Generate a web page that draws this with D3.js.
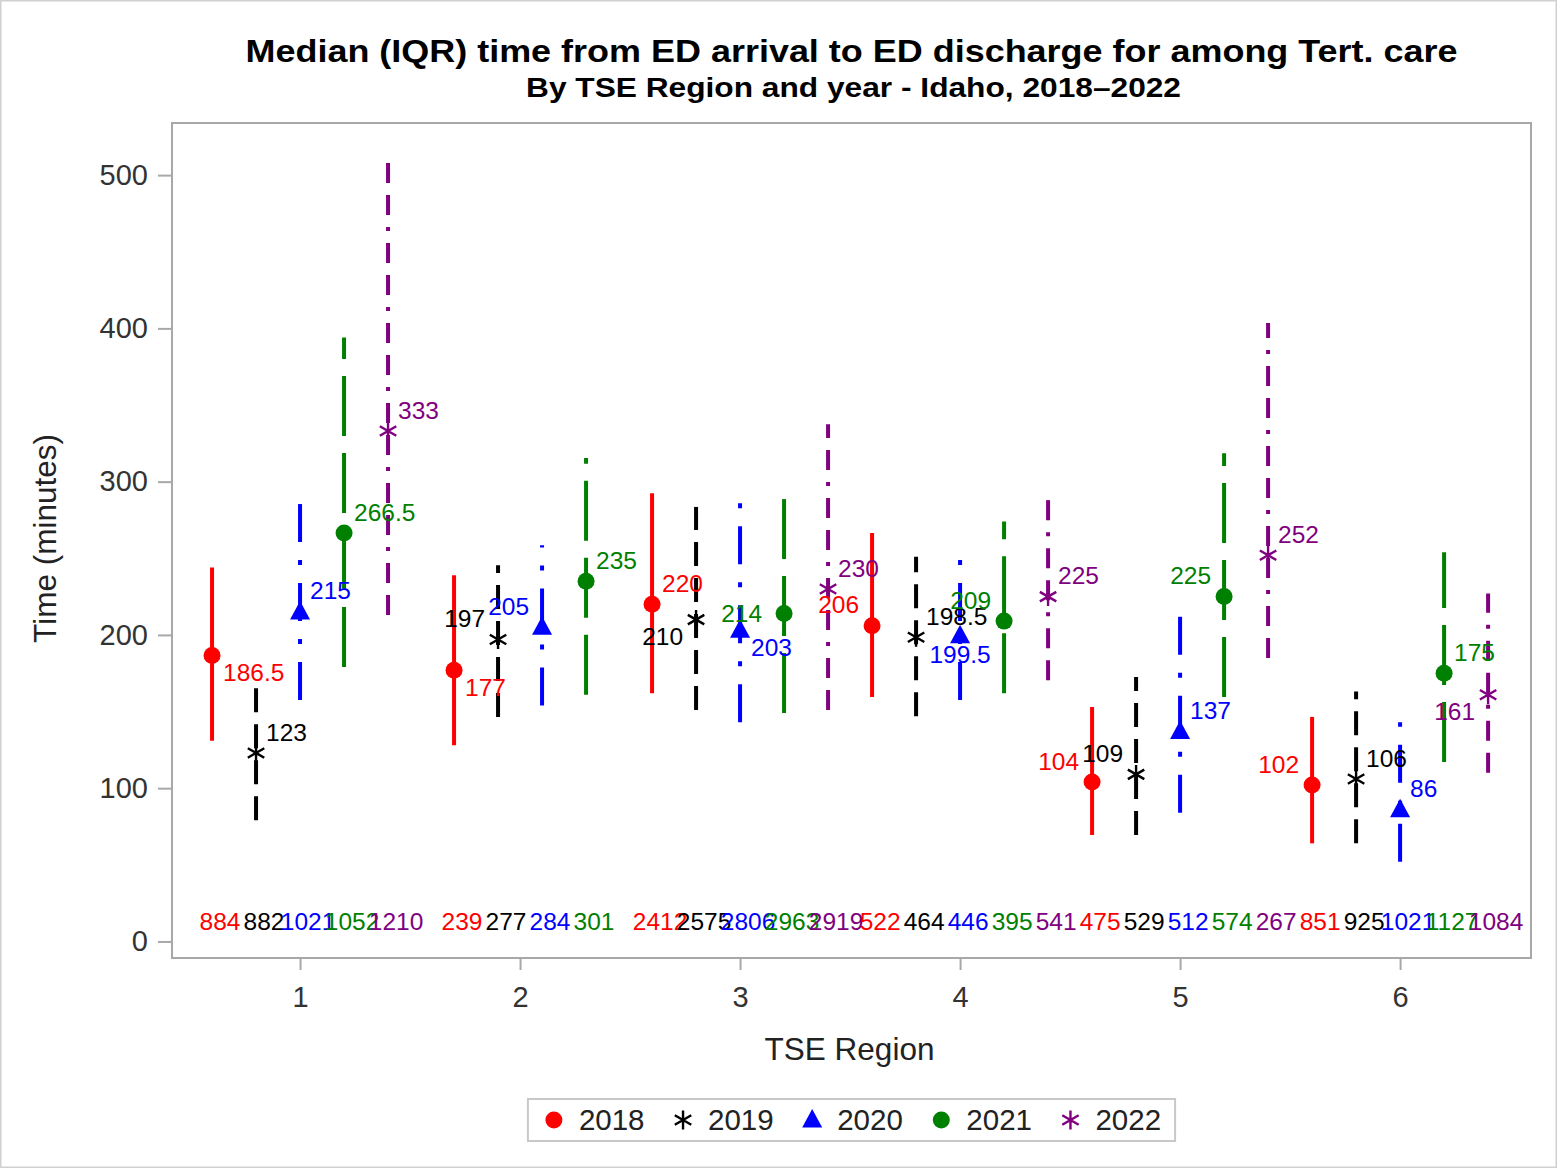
<!DOCTYPE html>
<html><head><meta charset="utf-8">
<script src="https://cdn.jsdelivr.net/npm/d3@7"></script>
<style>
body{margin:0;background:#fff}
svg{display:block}
text{font-family:"Liberation Sans",Arial,sans-serif}
</style>
</head><body>
<svg id="chart" width="1557" height="1168"></svg>
<script>
// ---------------- DATA ----------------
const regions = [1, 2, 3, 4, 5, 6];
const years = ["2018", "2019", "2020", "2021", "2022"];

const median2018 = [186.5, 177, 220, 206, 104, 102];
const median2019 = [123, 197, 210, 198.5, 109, 106];
const median2020 = [215, 205, 203, 199.5, 137, 86];
const median2021 = [266.5, 235, 214, 209, 225, 175];
const median2022 = [333, null, 230, 225, 252, 161];

const q1_2018 = [131, 128, 162, 159.5, 69.5, 64];
const q3_2018 = [244, 239, 292.5, 266.5, 153, 146.5];
const q1_2019 = [79, 146.5, 151, 147, 69.5, 64];
const q3_2019 = [172.5, 245.5, 283.5, 251, 172.5, 163];
const q1_2020 = [157.5, 154, 143, 157.5, 84, 52];
const q3_2020 = [290, 258.5, 290, 258.5, 217.5, 143];
const q1_2021 = [179, 161, 149, 162, 159.5, 117];
const q3_2021 = [394, 315.5, 296, 274, 318.5, 254];
const q1_2022 = [213, null, 151, 170.5, 185, 110];
const q3_2022 = [513, null, 337.5, 294, 403.5, 227];

const n2018 = [884, 239, 2412, 522, 475, 851];
const n2019 = [882, 277, 2575, 464, 529, 925];
const n2020 = [1021, 284, 2806, 446, 512, 1021];
const n2021 = [1052, 301, 2963, 395, 574, 1127];
const n2022 = [1210, null, 2919, 541, 267, 1084];

// label side relative to the median marker
const side2018 = ["se", "se", "ne", "nw", "nw", "nw"];
const side2019 = ["ne", "nw", "sw", "ne", "nw", "ne"];
const side2020 = ["ne", "nw", "se", "s", "ne", "ne"];
const side2021 = ["ne", "ne", "w", "nw", "nw", "ne"];
const side2022 = ["ne", null, "ne", "ne", "ne", "sw"];

const yTicks = [0, 100, 200, 300, 400, 500];

const titleText = "Median (IQR) time from ED arrival to ED discharge for among Tert. care";
const subtitleText = "By TSE Region and year - Idaho, 2018\u20132022";
const xLabel = "TSE Region";
const yLabel = "Time (minutes)";

// ---------------- STYLE ----------------
const seriesData = {
  "2018": {med: median2018, q1: q1_2018, q3: q3_2018, n: n2018, side: side2018},
  "2019": {med: median2019, q1: q1_2019, q3: q3_2019, n: n2019, side: side2019},
  "2020": {med: median2020, q1: q1_2020, q3: q3_2020, n: n2020, side: side2020},
  "2021": {med: median2021, q1: q1_2021, q3: q3_2021, n: n2021, side: side2021},
  "2022": {med: median2022, q1: q1_2022, q3: q3_2022, n: n2022, side: side2022}
};
const styles = {
  "2018": {color: "#ff0000", marker: "circle", dash: null},
  "2019": {color: "#000000", marker: "asterisk", dash: "24,12"},
  "2020": {color: "#0000ff", marker: "triangle", dash: "38,18,5,18"},
  "2021": {color: "#008000", marker: "circle", dash: "60,17"},
  "2022": {color: "#800080", marker: "asterisk", dash: "20,12,20,12,4,12"}
};
const place = {
  ne: {dx: 10, dy: -21, anchor: "start"},
  se: {dx: 11, dy: 17, anchor: "start"},
  nw: {dx: -13, dy: -21, anchor: "end"},
  sw: {dx: -13, dy: 17, anchor: "end"},
  s:  {dx: 0, dy: 19, anchor: "middle"},
  w:  {dx: -22, dy: 0, anchor: "end"}
};

const svg = d3.select("#chart");
const W = 1557, H = 1168;
const frame = {left: 172, right: 1531, top: 123, bottom: 958};

svg.append("rect").attr("x", 0.5).attr("y", 0.5).attr("width", W - 1).attr("height", H - 1)
  .attr("fill", "#fff").attr("stroke", "#d0d0d0").attr("stroke-width", 2);

const x = d3.scaleLinear().domain([0.418, 6.595]).range([frame.left, frame.right]);
const y = d3.scaleLinear().domain([-10.8, 534]).range([frame.bottom, frame.top]);
const clusterStep = 0.2;

// frame
svg.append("rect").attr("x", frame.left).attr("y", frame.top)
  .attr("width", frame.right - frame.left).attr("height", frame.bottom - frame.top)
  .attr("fill", "none").attr("stroke", "#a8a8a8").attr("stroke-width", 2);

// axes
const yAxis = d3.axisLeft(y).tickValues(yTicks).tickSize(14).tickPadding(10).tickFormat(d3.format("d"));
const gy = svg.append("g").attr("transform", `translate(${frame.left},0)`).call(yAxis);
const xAxis = d3.axisBottom(x).tickValues(regions).tickSize(12).tickPadding(16).tickFormat(d3.format("d"));
const gx = svg.append("g").attr("transform", `translate(0,${frame.bottom})`).call(xAxis);
[gx, gy].forEach(g => {
  g.select(".domain").remove();
  g.selectAll(".tick line").attr("stroke", "#a8a8a8").attr("stroke-width", 2);
  g.selectAll(".tick text").attr("fill", "#333").style("font-size", "29px")
    .style("font-family", '"Liberation Sans",Arial,sans-serif');
});

// titles
const cxTitle = (frame.left + frame.right) / 2;
svg.append("text").attr("x", cxTitle).attr("y", 62)
  .attr("text-anchor", "middle")
  .style("font-weight", "bold").style("font-size", "30.5px").attr("fill", "#000")
  .attr("textLength", 1212).attr("lengthAdjust", "spacingAndGlyphs")
  .text(titleText);
svg.append("text").attr("x", cxTitle + 2).attr("y", 97)
  .attr("text-anchor", "middle")
  .style("font-weight", "bold").style("font-size", "27px").attr("fill", "#000")
  .attr("textLength", 655).attr("lengthAdjust", "spacingAndGlyphs")
  .text(subtitleText);

svg.append("text").attr("x", cxTitle - 2).attr("y", 1060)
  .attr("text-anchor", "middle").style("font-size", "31.5px").attr("fill", "#222").text(xLabel);
svg.append("text").attr("transform", `translate(56,${(frame.top + frame.bottom) / 2 - 2}) rotate(-90)`)
  .attr("text-anchor", "middle").style("font-size", "31.5px").attr("fill", "#222").text(yLabel);

// marker drawing
function markerPath(type) {
  if (type === "circle") return d3.symbol(d3.symbolCircle, Math.PI * 8.5 * 8.5)();
  if (type === "triangle") return "M0,-11L10,7.5L-10,7.5Z";
  const r = 9.5, t = r * Math.sqrt(3) / 2, u = r / 2;
  return `M0,${-r}L0,${r}M${-t},${-u}L${t},${u}M${-t},${u}L${t},${-u}`;
}
function drawMarker(g, type, color) {
  const p = g.append("path").attr("d", markerPath(type));
  if (type === "asterisk") p.attr("fill", "none").attr("stroke", color).attr("stroke-width", 2.4);
  else p.attr("fill", color);
}

// build points
const points = [];
regions.forEach((r, i) => {
  const present = years.filter(yr => seriesData[yr].med[i] != null);
  present.forEach((yr, j) => {
    const off = (j - (present.length - 1) / 2) * clusterStep;
    const s = seriesData[yr];
    points.push({region: r, year: yr, xv: r + off, med: s.med[i], q1: s.q1[i], q3: s.q3[i], n: s.n[i], side: s.side[i]});
  });
});

const gPlot = svg.append("g");
// IQR bars
gPlot.selectAll("line.iqr").data(points).join("line")
  .attr("class", "iqr")
  .attr("x1", d => x(d.xv)).attr("x2", d => x(d.xv))
  .attr("y1", d => y(d.q1)).attr("y2", d => y(d.q3))
  .attr("stroke", d => styles[d.year].color).attr("stroke-width", 4)
  .attr("stroke-dasharray", d => styles[d.year].dash);

// markers
points.forEach(d => {
  const g = gPlot.append("g").attr("transform", `translate(${x(d.xv)},${y(d.med)})`);
  drawMarker(g, styles[d.year].marker, styles[d.year].color);
});

// median labels
gPlot.selectAll("text.med").data(points).join("text")
  .attr("class", "med")
  .attr("x", d => x(d.xv) + place[d.side].dx)
  .attr("y", d => y(d.med) + place[d.side].dy)
  .attr("dy", "0.35em")
  .attr("text-anchor", d => place[d.side].anchor)
  .style("font-size", "24.5px")
  .attr("fill", d => styles[d.year].color)
  .text(d => String(d.med));

// count labels
gPlot.selectAll("text.cnt").data(points).join("text")
  .attr("class", "cnt")
  .attr("x", d => x(d.xv) + 8)
  .attr("y", y(0) - 11)
  .attr("text-anchor", "middle")
  .style("font-size", "24.5px")
  .attr("fill", d => styles[d.year].color)
  .text(d => String(d.n));

// legend
const lg = svg.append("g");
const legendY = 1120;
let cx = 0;
const items = [];
years.forEach(yr => {
  const g = lg.append("g");
  const sym = g.append("g").attr("transform", `translate(${cx},0)`);
  drawMarker(sym, styles[yr].marker, styles[yr].color);
  const t = g.append("text").attr("x", cx + 25).attr("y", 0).attr("dy", "0.35em")
    .style("font-size", "29.5px").attr("fill", "#222").text(yr);
  const w = t.node().getComputedTextLength();
  items.push(cx + 25 + w);
  cx = cx + 25 + w + 38.5;
});
const lgLeft = -26, lgRight = items[items.length - 1] + 14;
const lgW = lgRight - lgLeft;
const lgX0 = (frame.left + frame.right) / 2 - lgW / 2 - lgLeft;
lg.attr("transform", `translate(${lgX0},${legendY})`);
lg.insert("rect", ":first-child").attr("x", lgLeft).attr("y", -21).attr("width", lgW).attr("height", 42)
  .attr("fill", "#fff").attr("stroke", "#c8c8c8").attr("stroke-width", 2);
</script>
</body></html>
